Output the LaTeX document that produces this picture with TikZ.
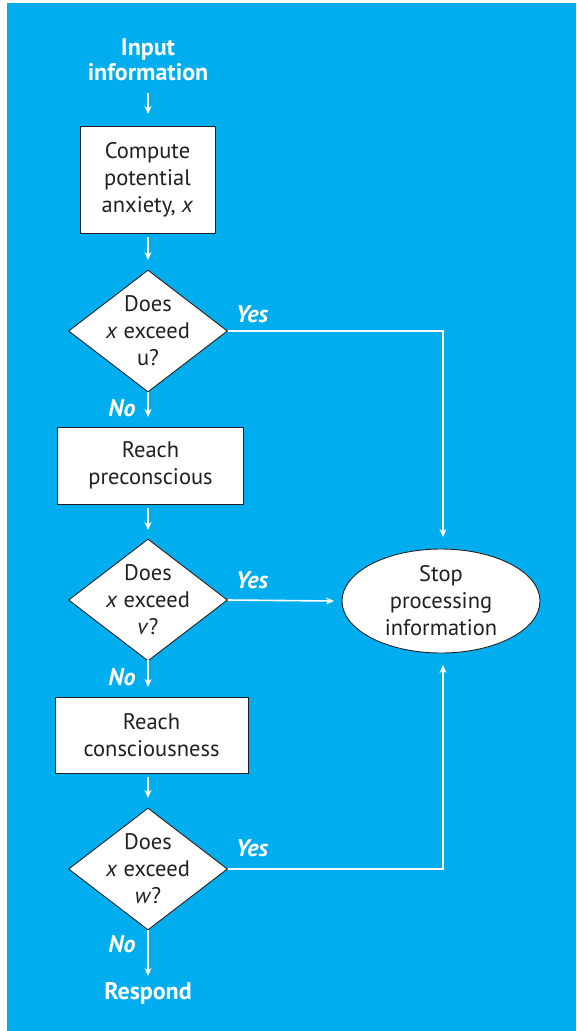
\documentclass[tikz,border=0pt]{standalone}
\usepackage{fontspec}
\setmainfont{PT Sans}
\usetikzlibrary{shapes.geometric,arrows.meta}
\definecolor{panel}{HTML}{00AEEF}
\definecolor{ink}{HTML}{231F20}
\tikzset{
  every node/.style={font=\fontsize{22.5}{27}\selectfont, text=ink, align=center, inner sep=0pt},
  stepbox/.style={draw=ink, fill=white, line width=0.9pt, rectangle},
  decision/.style={draw=ink, fill=white, line width=0.9pt, diamond, aspect=1.3, inner sep=-20pt},
  terminal/.style={draw=ink, fill=white, line width=0.9pt, ellipse},
  outer/.style={text=white, font=\fontsize{24}{25}\selectfont\bfseries},
  answer/.style={text=white, font=\fontsize{24}{25}\selectfont\bfseries\itshape},
  flow/.style={draw=white, line width=1.6pt, -{Stealth[length=8pt,width=7pt]}},
}
\begin{document}
\begin{tikzpicture}[x=1pt,y=-1pt]
\useasboundingbox (0,0) rectangle (576,1031);
\fill[panel] (7,3) rectangle (576,1031);

% start
\node[outer] (input) at (148,60) {Input\\information};

% processing chain
\node[stepbox, minimum width=135pt, minimum height=107pt] (compute) at (147.5,179.5)
  {Compute\\potential\\anxiety, \textit{x}};
\node[decision, minimum width=159pt, minimum height=122pt] (du) at (148,331)
  {Does\\\textit{x} exceed\\u?};
\node[stepbox, minimum width=186pt, minimum height=77pt] (pre) at (150.5,465.5)
  {Reach\\preconscious};
\node[decision, minimum width=159pt, minimum height=122pt] (dv) at (148,600)
  {Does\\\textit{x} exceed\\\textit{v}?};
\node[stepbox, minimum width=193pt, minimum height=76pt] (con) at (151.5,735)
  {Reach\\consciousness};
\node[decision, minimum width=159pt, minimum height=122pt] (dw) at (148,869)
  {Does\\\textit{x} exceed\\\textit{w}?};
\node[outer] (respond) at (148,993) {Respond};

% terminal
\node[terminal, minimum width=198pt, minimum height=104pt] (stop) at (441,601)
  {Stop\\processing\\information};

% connector ends
\coordinate (inA) at (148,93);
\coordinate (inB) at (148,114);
\coordinate (cA) at (148,237);
\coordinate (cB) at (148,260);
\coordinate (uA) at (148,392);
\coordinate (uB) at (148,417);
\coordinate (pA) at (148,508);
\coordinate (pB) at (148,530);
\coordinate (vA) at (148,660);
\coordinate (vB) at (148,687);
\coordinate (kA) at (148,777);
\coordinate (kB) at (148,798);
\coordinate (wA) at (148,930);
\coordinate (wB) at (148,976);
\coordinate (ucorner) at (443,331);
\coordinate (utip) at (443,537);
\coordinate (vtip) at (334,601);
\coordinate (wcorner) at (443,869);
\coordinate (wtip) at (443,665);

% vertical flow
\draw[flow] (inA) -- (inB);
\draw[flow] (cA) -- (cB);
\draw[flow] (uA) -- (uB);
\draw[flow] (pA) -- (pB);
\draw[flow] (vA) -- (vB);
\draw[flow] (kA) -- (kB);
\draw[flow] (wA) -- (wB);

% exits to the terminal
\draw[flow] (du.east) -- (ucorner) -- (utip);
\draw[flow] (dv.east) -- (vtip);
\draw[flow] (dw.east) -- (wcorner) -- (wtip);

% answer labels
\node[answer] (yu) at (252,314) {Yes};
\node[answer] (yv) at (252,580) {Yes};
\node[answer] (yw) at (252,848) {Yes};
\node[answer] (nu) at (122,408) {No};
\node[answer] (nv) at (122,677) {No};
\node[answer] (nw) at (122,944) {No};
\end{tikzpicture}
\end{document}
